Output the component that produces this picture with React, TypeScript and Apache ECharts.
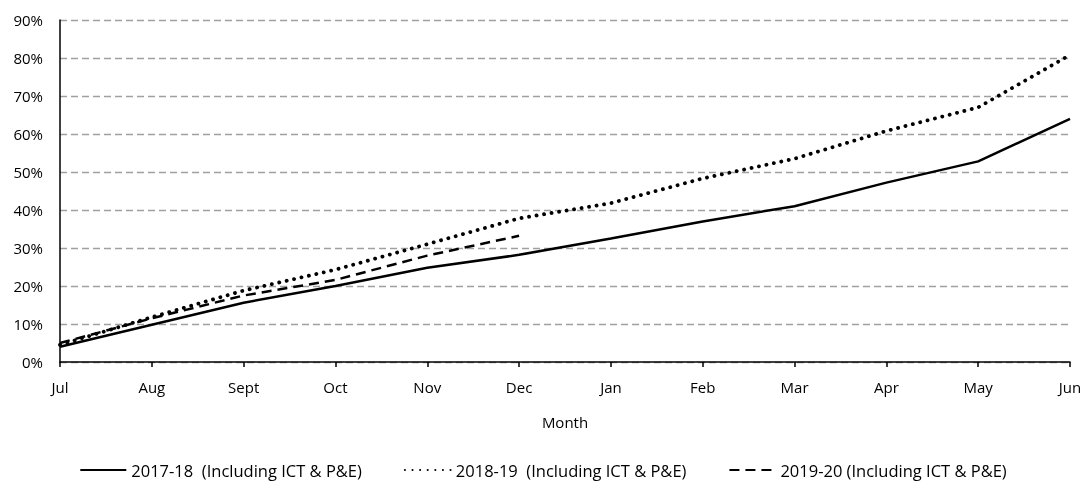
import React, { useEffect, useRef } from "react";
import * as echarts from "echarts";

const months = ["Jul", "Aug", "Sept", "Oct", "Nov", "Dec", "Jan", "Feb", "Mar", "Apr", "May", "Jun"];
const yTicks = [0, 10, 20, 30, 40, 50, 60, 70, 80, 90];
const s2017 = [4.0, 9.8, 15.6, 20.0, 24.8, 28.2, 32.5, 37.0, 41.0, 47.2, 52.8, 64.0];
const s2018 = [4.5, 11.8, 18.8, 24.3, 31.0, 37.8, 41.8, 48.3, 53.5, 60.8, 67.0, 80.8];
const s2019 = [5.0, 11.5, 17.5, 21.6, 28.0, 33.2];
const names = [
  "2017-18  (Including ICT & P&E)",
  "2018-19  (Including ICT & P&E)",
  "2019-20 (Including ICT & P&E)",
];

const FONT = "Open Sans";

export default function App() {
  const ref = useRef<HTMLDivElement>(null);
  useEffect(() => {
    if (!ref.current) return;
    const chart = echarts.init(ref.current, undefined, { renderer: "svg" });
    chart.setOption({
      animation: false,
      textStyle: { fontFamily: FONT },
      grid: { left: 60, right: 16, top: 20, bottom: 119, containLabel: false },
      legend: {
        bottom: 1,
        left: "center",
        itemWidth: 46,
        itemHeight: 10,
        itemGap: 42,
        padding: [0, 5, 0, 5],
        itemStyle: { opacity: 0 },
        textStyle: { fontFamily: FONT, fontSize: 16.5, color: "#000", lineHeight: 20 },
        data: names,
      },
      xAxis: {
        type: "category",
        data: months,
        boundaryGap: false,
        name: "Month",
        nameLocation: "middle",
        nameGap: 52,
        nameTextStyle: { fontFamily: FONT, fontSize: 15, color: "#000" },
        axisLine: { lineStyle: { color: "#000", width: 1.5 } },
        axisTick: { show: true, length: 5, alignWithLabel: true, lineStyle: { color: "#000", width: 1.5 } },
        axisLabel: { color: "#000", fontSize: 15, fontFamily: FONT, margin: 17 },
        splitLine: { show: false },
      },
      yAxis: {
        type: "value",
        min: yTicks[0],
        max: yTicks[yTicks.length - 1],
        interval: 10,
        axisLine: { show: true, lineStyle: { color: "#000", width: 1.5 } },
        axisTick: { show: false },
        axisLabel: { color: "#000", fontSize: 15, fontFamily: FONT, formatter: (v: number) => v + "%", margin: 17 },
        splitLine: { show: true, lineStyle: { color: "#a0a0a0", type: [7, 4], width: 1.3 } },
      },
      series: [
        {
          name: names[0],
          type: "line",
          data: s2017,
          symbol: "none",
          lineStyle: { color: "#000", width: 2.5, type: "solid" },
          itemStyle: { color: "#000" },
        },
        {
          name: names[1],
          type: "line",
          data: s2018,
          symbol: "none",
          lineStyle: { color: "#000", width: 3.8, type: [0.1, 7.5], cap: "round" },
          itemStyle: { color: "#000" },
        },
        {
          name: names[2],
          type: "line",
          data: s2019,
          symbol: "none",
          lineStyle: { color: "#000", width: 2.5, type: [10, 6] },
          itemStyle: { color: "#000" },
        },
      ],
    });
    return () => chart.dispose();
  }, []);
  return <div ref={ref} style={{ position: "fixed", left: 0, top: 0, width: 1086, height: 481 }} />;
}
